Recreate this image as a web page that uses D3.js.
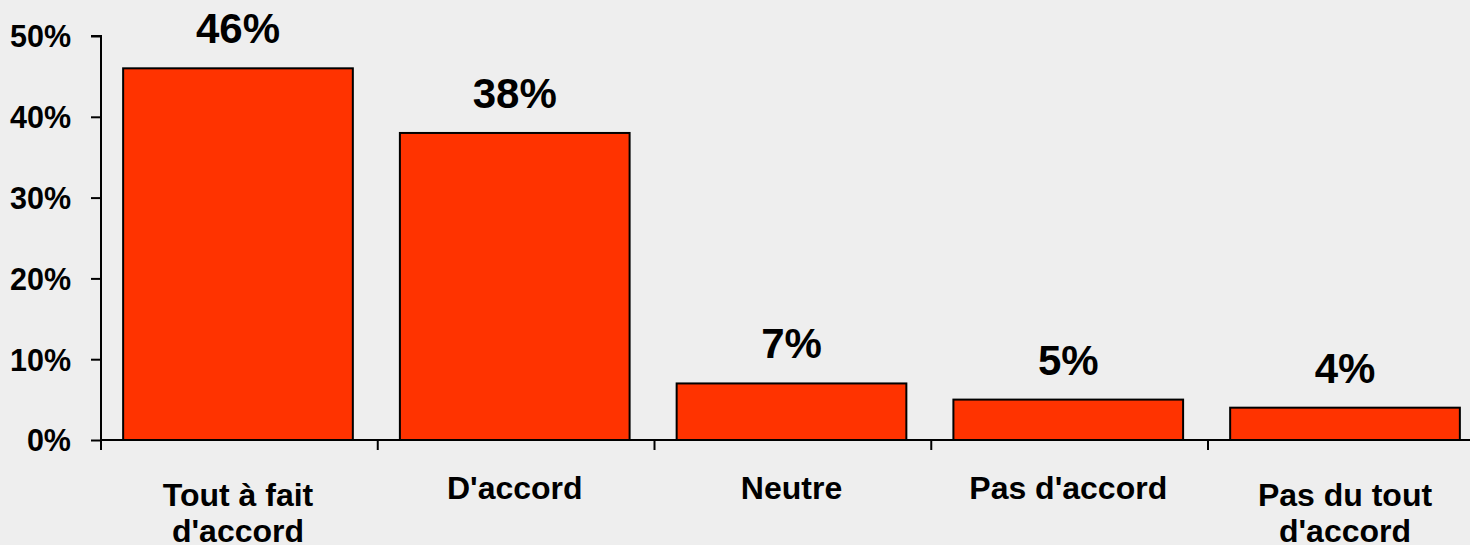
<!DOCTYPE html>
<html><head><meta charset="utf-8">
<script src="https://cdn.jsdelivr.net/npm/d3@7"></script>
<style>html,body{margin:0;padding:0;background:#eeeeee;}svg{display:block;}</style>
</head><body><svg id="c" width="1470" height="545"></svg>
<script>
const categories = [["Tout à fait","d'accord"],["D'accord"],["Neutre"],["Pas d'accord"],["Pas du tout","d'accord"]];
const values = [46, 38, 7, 5, 4];
const yTicks = [0, 10, 20, 30, 40, 50];

const svg = d3.select("#c");
const font = "'Liberation Sans', Arial, sans-serif";
const x0 = 101, y0 = 440;
const keys = categories.map((c,i)=>i);
const x = d3.scaleBand().domain(keys).range([x0, x0 + 5*276.2]).paddingInner(0.17).paddingOuter(0.08);
const y = d3.scaleLinear().domain([0,50]).range([y0, 36]);

svg.append("rect").attr("width",1470).attr("height",545).attr("fill","#eeeeee");

// bars
svg.selectAll("rect.bar").data(values).join("rect").attr("class","bar")
  .attr("x",(d,i)=>x(i)).attr("width",x.bandwidth())
  .attr("y",d=>y(d)).attr("height",d=>y(0)-y(d))
  .attr("fill","#ff3300").attr("stroke","#000").attr("stroke-width",2);

// value labels
svg.selectAll("text.val").data(values).join("text").attr("class","val")
  .attr("x",(d,i)=>x(i)+x.bandwidth()/2).attr("y",d=>y(d)-25)
  .attr("text-anchor","middle").attr("font-family",font).attr("font-weight","bold")
  .attr("font-size",42).attr("fill","#000").text(d=>d+"%");

// y axis
const ya = svg.append("g").attr("transform",`translate(${x0},0)`)
  .call(d3.axisLeft(y).tickValues(yTicks).tickSize(10).tickPadding(20).tickFormat(d=>d+"%"));
ya.select(".domain").attr("d",`M-10,${y(50)}H0V${y(0)}`).attr("stroke","#000").attr("stroke-width",2);
ya.selectAll(".tick line").attr("stroke","#000").attr("stroke-width",2);
ya.selectAll(".tick text").attr("font-family",font).attr("font-weight","bold").attr("font-size",30.5).attr("fill","#000").attr("dy","0.36em");

// x axis
const xa = svg.append("g");
xa.append("line").attr("x1",x0).attr("x2",1470).attr("y1",y0).attr("y2",y0).attr("stroke","#000").attr("stroke-width",2);
const step = x.step();
const bounds = d3.range(0,6).map(i=>x0 + i*step);
xa.selectAll("line.t").data(bounds).join("line").attr("class","t")
  .attr("x1",d=>d).attr("x2",d=>d).attr("y1",y0).attr("y2",y0+10).attr("stroke","#000").attr("stroke-width",2);

// category labels
const cl = svg.selectAll("text.cat").data(categories).join("text").attr("class","cat")
  .attr("text-anchor","middle").attr("font-family",font).attr("font-weight","bold")
  .attr("font-size",32).attr("fill","#000");
cl.each(function(lines,i){
  const t = d3.select(this);
  const cx = x(i)+x.bandwidth()/2;
  const base = lines.length===1 ? 499 : 506;
  lines.forEach((l,j)=>{
    t.append("tspan").attr("x",cx).attr("y",base + j*36).text(l);
  });
});
</script></body></html>
